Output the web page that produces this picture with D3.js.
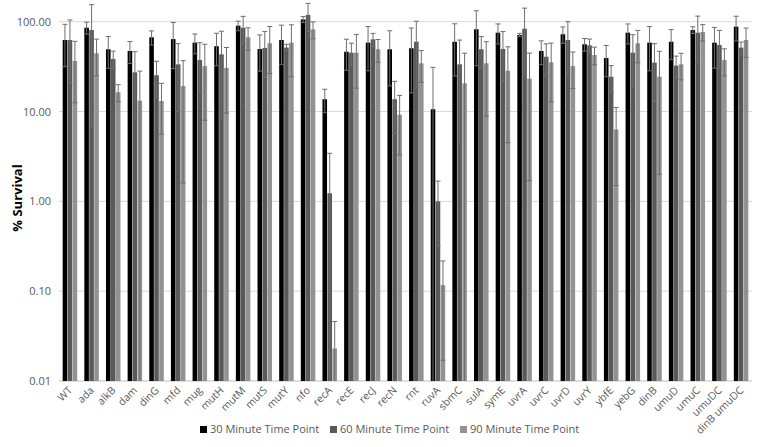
<!DOCTYPE html>
<html><head><meta charset="utf-8">
<script src="https://cdn.jsdelivr.net/npm/d3@7"></script>
<style>body{margin:0;background:#fff}svg{display:block}text{font-family:"Open Sans","Liberation Sans",sans-serif}</style>
</head><body><svg id="c" width="757" height="447"></svg>
<script>
const categories=["WT","ada","alkB","dam","dinG","mfd","mug","mutH","mutM","mutS","mutY","nfo","recA","recE","recJ","recN","rnt","ruvA","sbmC","sulA","symE","uvrA","uvrC","uvrD","uvrY","ybfE","yebG","dinB","umuD","umuC","umuDC","dinB umuDC"];
const seriesNames=["30 Minute Time Point","60 Minute Time Point","90 Minute Time Point"];
const values30=[62.5,85.7,49.3,47.2,67,64,58.4,53.3,90.3,49.7,62.5,106,13.7,46.3,58.4,49.3,50.6,10.6,59.8,82.3,75.4,71.1,47.2,72.4,56,39.4,75.4,58.4,59.8,80.8,58.4,88];
const err30=[31,13,19,13,12,34,14.5,21,11,21.5,29,8,4,17.5,30,30,34.5,20.4,35,50,19,3,14,15,9,15,19,30,22,7,28,27];
const values60=[62.5,80.8,38.5,27.3,25.3,33.5,37.4,43.3,85.7,51,51.5,119,1.23,45.2,63.6,13.7,59.8,1.0,33.5,49.3,49.7,83.6,40.7,62.5,54.6,24.4,45.2,35,32.4,75.4,55,51.4];
const err60=[42,74,8.5,19,11,23.5,21,35,29,27,4.5,41,2.2,12.5,10.5,8,41.5,0.68,29,19,28,58,16,37.5,9.5,8,26.5,22,9,40,25,8];
const values90=[36.5,44.5,16.4,13.2,13.1,19.2,32,30.6,67,57.5,58.4,82,0.023,45.2,49.3,9.2,34.4,0.117,20.6,34.4,28.5,23.2,35.3,32,42.6,6.3,57.5,24.4,33.5,76.8,37.4,62.5];
const err90=[24,19.5,3.5,15,7.5,17.6,24,21,18.5,31,34,17.5,0.023,27,14,5.9,13.3,0.1,24,25.5,24,21.5,22.5,14,9.5,4.8,22.5,22.4,11,16,12.5,22.5];
const yTicks=[100,10,1,0.1,0.01];
const yTickLabels=["100.00","10.00","1.00","0.10","0.01"];
const colors=["#000000","#595959","#929292"];

const vals=[values30,values60,values90], errs=[err30,err60,err90];
const svg=d3.select("#c");
const L=59,R=752,T=21.7,B=381;
const y=d3.scaleLog().domain([0.01,100]).range([B,T]);
const x0=d3.scaleBand().domain(categories).range([L,R]).paddingInner(0.33).paddingOuter(0.17);
const x1=d3.scaleBand().domain(seriesNames).range([0,x0.bandwidth()]).paddingInner(0.08);

// gridlines
svg.append("g").selectAll("line").data(yTicks).join("line")
 .attr("x1",L).attr("x2",R).attr("y1",d=>y(d)).attr("y2",d=>y(d))
 .attr("stroke",d=>d===0.01?"#bfbfbf":"#d9d9d9").attr("stroke-width",1);

// y axis labels
const ya=d3.axisLeft(y).tickValues(yTicks).tickFormat((d,i)=>yTickLabels[i]).tickSize(0).tickPadding(8);
const yg=svg.append("g").attr("transform",`translate(${L},0)`).call(ya);
yg.select(".domain").remove();
yg.selectAll("text").attr("fill","#595959").style("font-size","11px");

// bars
const groups=svg.append("g").selectAll("g").data(categories).join("g")
 .attr("transform",d=>`translate(${x0(d)},0)`);
seriesNames.forEach((s,si)=>{
  groups.append("rect")
   .attr("x",x1(s)).attr("width",x1.bandwidth())
   .attr("y",(d,i)=>y(vals[si][i])).attr("height",(d,i)=>B-y(vals[si][i]))
   .attr("fill",colors[si]);
});
// error bars
seriesNames.forEach((s,si)=>{
  const cx=x1(s)+x1.bandwidth()/2;
  const hi=i=>y(vals[si][i]+errs[si][i]);
  const lo=i=>{const v=vals[si][i]-errs[si][i];return v>0.01?y(v):B;};
  groups.append("line").attr("x1",cx).attr("x2",cx)
   .attr("y1",(d,i)=>hi(i)).attr("y2",(d,i)=>lo(i))
   .attr("stroke","#6e6e6e").attr("stroke-width",1);
  groups.append("line").attr("x1",cx-2.5).attr("x2",cx+2.5)
   .attr("y1",(d,i)=>hi(i)).attr("y2",(d,i)=>hi(i))
   .attr("stroke","#6e6e6e").attr("stroke-width",1);
  groups.filter((d,i)=>vals[si][i]-errs[si][i]>0.01).append("line").attr("x1",cx-2.5).attr("x2",cx+2.5)
   .attr("y1",function(d){const i=categories.indexOf(d);return lo(i);})
   .attr("y2",function(d){const i=categories.indexOf(d);return lo(i);})
   .attr("stroke","#6e6e6e").attr("stroke-width",1);
});

// x labels
const xa=d3.axisBottom(x0).tickSize(0).tickPadding(0);
const xg=svg.append("g").attr("transform",`translate(0,${B})`).call(xa);
xg.select(".domain").remove();
xg.selectAll("text").attr("text-anchor","end").attr("fill","#595959").style("font-size","10.5px")
 .attr("dy",null).attr("y",0)
 .attr("transform","translate(3,10) rotate(-45)");

// y title
svg.append("text").attr("transform","translate(22,198) rotate(-90)").attr("text-anchor","middle")
 .style("font-size","13px").style("font-weight","bold").attr("fill","#000").text("% Survival");

// legend
const lx=[200,330,460];
const lg=svg.append("g").selectAll("g").data(seriesNames).join("g").attr("transform",(d,i)=>`translate(${lx[i]},433)`);
lg.append("rect").attr("x",0).attr("y",-7).attr("width",7).attr("height",7).attr("fill",(d,i)=>colors[i]);
lg.append("text").attr("x",10).attr("y",0).style("font-size","11px").attr("fill","#595959").text(d=>d);
</script></body></html>
